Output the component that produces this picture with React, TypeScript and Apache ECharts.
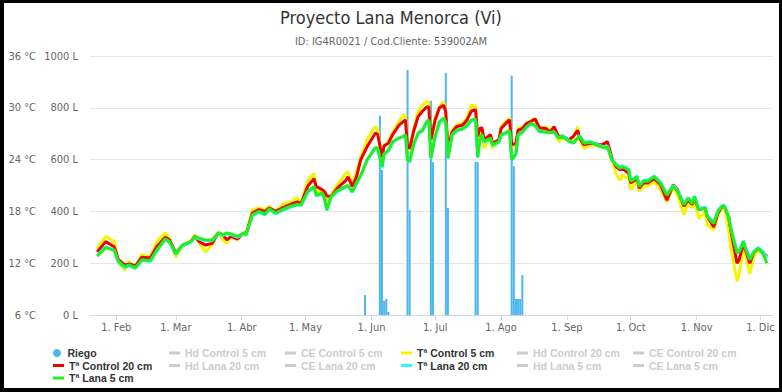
import React, { useEffect, useRef } from "react";
import * as echarts from "echarts";

const FONT = '"Liberation Sans Narrow", "DejaVu Sans Condensed", "Arial Narrow", sans-serif';
const LEGEND_FONT = '"Liberation Sans", Arial, sans-serif';

const TITLE = "Proyecto Lana Menorca (Vi)";
const SUBTITLE = "ID: IG4R0021 / Cod.Cliente: 539002AM";

const monthNames = ["Ene", "Feb", "Mar", "Abr", "May", "Jun", "Jul", "Ago", "Sep", "Oct", "Nov", "Dic"];
const monthTicks = [
  "2019-02-01", "2019-03-01", "2019-04-01", "2019-05-01", "2019-06-01", "2019-07-01",
  "2019-08-01", "2019-09-01", "2019-10-01", "2019-11-01", "2019-12-01",
];

const dates = [
  "2019-01-23", "2019-01-27", "2019-01-31", "2019-02-02", "2019-02-05", "2019-02-07", "2019-02-10", "2019-02-13",
  "2019-02-17", "2019-02-20", "2019-02-24", "2019-02-26", "2019-03-01", "2019-03-04", "2019-03-08", "2019-03-10",
  "2019-03-12", "2019-03-15", "2019-03-18", "2019-03-21", "2019-03-23", "2019-03-25", "2019-03-27", "2019-03-30",
  "2019-04-02", "2019-04-03", "2019-04-06", "2019-04-09", "2019-04-12", "2019-04-14", "2019-04-17", "2019-04-20",
  "2019-04-24", "2019-04-27", "2019-04-29", "2019-05-02", "2019-05-05", "2019-05-06", "2019-05-09", "2019-05-10",
  "2019-05-11", "2019-05-13", "2019-05-16", "2019-05-20", "2019-05-21", "2019-05-23", "2019-05-25", "2019-05-27",
  "2019-05-30", "2019-06-02", "2019-06-03", "2019-06-04", "2019-06-06", "2019-06-07", "2019-06-09", "2019-06-11",
  "2019-06-14", "2019-06-16", "2019-06-17", "2019-06-18", "2019-06-19", "2019-06-21", "2019-06-23", "2019-06-25",
  "2019-06-27", "2019-06-28", "2019-06-29", "2019-07-01", "2019-07-03", "2019-07-05", "2019-07-06", "2019-07-07",
  "2019-07-09", "2019-07-11", "2019-07-14", "2019-07-16", "2019-07-18", "2019-07-20", "2019-07-21", "2019-07-22",
  "2019-07-23", "2019-07-24", "2019-07-27", "2019-07-28", "2019-07-31", "2019-08-01", "2019-08-04", "2019-08-05",
  "2019-08-06", "2019-08-08", "2019-08-09", "2019-08-11", "2019-08-13", "2019-08-15", "2019-08-17", "2019-08-19",
  "2019-08-22", "2019-08-24", "2019-08-26", "2019-08-28", "2019-08-30", "2019-09-02", "2019-09-04", "2019-09-06",
  "2019-09-07", "2019-09-09", "2019-09-12", "2019-09-15", "2019-09-17", "2019-09-19", "2019-09-20", "2019-09-22",
  "2019-09-24", "2019-09-26", "2019-09-27", "2019-09-30", "2019-10-01", "2019-10-04", "2019-10-05", "2019-10-07",
  "2019-10-09", "2019-10-12", "2019-10-15", "2019-10-18", "2019-10-21", "2019-10-23", "2019-10-26", "2019-10-28",
  "2019-10-30", "2019-10-31", "2019-11-02", "2019-11-05", "2019-11-06", "2019-11-09", "2019-11-11", "2019-11-13",
  "2019-11-14", "2019-11-16", "2019-11-17", "2019-11-20", "2019-11-21", "2019-11-23", "2019-11-24", "2019-11-26",
  "2019-11-28", "2019-11-30", "2019-12-02", "2019-12-04",
];

// Tª Control 5 cm (yellow)
const tControl5 = [
  13.7, 15.1, 14.5, 12.1, 11.2, 12.2, 11.4, 13.0, 12.7, 14.5, 15.5, 14.9, 12.7, 14.0, 14.5, 15.3,
  14.3, 13.3, 14.1, 15.6, 14.7, 14.3, 15.2, 14.7, 15.6, 15.3, 18.2, 18.4, 18.2, 18.6, 17.9, 18.8,
  19.1, 19.6, 19.0, 21.5, 22.4, 20.3, 20.3, 20.1, 19.3, 19.9, 21.1, 22.4, 22.6, 21.1, 22.6, 24.3,
  26.3, 27.6, 27.8, 27.4, 24.2, 25.6, 26.1, 27.2, 28.4, 29.2, 29.0, 25.4, 25.1, 27.7, 29.6, 30.3,
  30.7, 30.6, 26.1, 28.8, 30.1, 30.7, 29.5, 25.1, 27.4, 28.0, 28.2, 28.9, 30.3, 30.2, 26.3, 26.9,
  27.4, 25.3, 26.7, 25.3, 26.3, 27.8, 28.6, 28.8, 25.5, 25.7, 27.7, 27.7, 28.1, 28.5, 28.8, 27.4,
  27.8, 27.4, 27.8, 26.1, 26.5, 26.2, 26.5, 27.8, 26.3, 25.3, 25.7, 25.6, 25.5, 25.6, 25.8, 24.0,
  22.4, 21.6, 22.2, 21.8, 20.5, 21.5, 20.3, 20.9, 20.9, 21.5, 20.5, 19.1, 20.8, 19.9, 17.6, 19.0,
  18.4, 19.3, 17.2, 17.9, 16.4, 15.9, 17.5, 18.5, 18.5, 15.9, 13.9, 9.9, 10.8, 13.7, 13.0, 10.8,
  12.8, 13.5, 13.3, 12.7,
];

// Tª Control 20 cm (red)
const tControl20 = [
  13.3, 14.5, 13.9, 12.4, 11.8, 11.9, 11.7, 12.7, 12.6, 13.9, 15.0, 14.7, 13.2, 14.0, 14.5, 15.1,
  14.5, 14.1, 14.3, 15.5, 15.3, 14.7, 15.1, 14.8, 15.5, 15.3, 17.8, 18.2, 18.0, 18.4, 18.0, 18.4,
  18.8, 19.1, 18.9, 20.9, 21.8, 20.9, 20.5, 20.3, 19.8, 19.7, 20.7, 21.6, 22.0, 20.9, 22.0, 24.0,
  25.5, 26.7, 27.1, 26.9, 24.3, 25.6, 25.9, 26.9, 28.0, 28.4, 28.6, 25.5, 25.3, 27.4, 29.0, 29.6,
  30.1, 30.1, 26.3, 28.6, 30.0, 30.3, 29.5, 25.3, 27.2, 27.8, 28.0, 28.6, 29.6, 29.8, 26.7, 27.6,
  27.7, 26.3, 26.9, 25.9, 26.3, 27.6, 28.4, 28.6, 25.7, 25.9, 27.4, 27.6, 28.2, 28.4, 28.7, 27.7,
  27.6, 27.2, 27.8, 26.7, 26.7, 26.3, 26.7, 27.4, 26.5, 25.7, 25.9, 25.8, 25.7, 25.9, 26.1, 24.3,
  23.2, 22.8, 23.0, 22.4, 21.3, 21.8, 20.7, 21.3, 21.3, 21.8, 21.1, 19.3, 21.1, 20.5, 18.6, 19.3,
  18.8, 19.5, 18.2, 18.4, 17.4, 16.2, 17.8, 18.6, 18.6, 17.4, 15.9, 12.0, 12.4, 14.3, 13.5, 12.0,
  13.3, 13.7, 13.3, 12.8,
];

// Tª Lana 20 cm (cyan)
const tLana20 = [
  12.9, 13.9, 13.5, 12.1, 11.5, 11.7, 11.4, 12.3, 12.2, 13.4, 14.7, 14.4, 13.0, 14.0, 14.4, 15.0,
  14.8, 14.6, 14.6, 15.4, 15.2, 15.4, 15.3, 15.0, 15.4, 15.2, 17.5, 17.9, 17.6, 18.2, 17.7, 18.1,
  18.5, 18.7, 18.7, 20.2, 20.8, 19.8, 20.0, 19.4, 18.1, 19.6, 20.3, 20.8, 20.9, 20.2, 21.2, 22.1,
  23.9, 25.0, 25.3, 25.2, 23.0, 24.6, 25.0, 26.0, 26.5, 26.7, 26.8, 23.9, 23.7, 25.8, 27.0, 27.3,
  28.3, 28.5, 24.1, 26.6, 28.3, 28.7, 28.2, 24.1, 26.8, 27.3, 27.5, 27.9, 28.5, 28.6, 24.2, 26.2,
  26.8, 26.0, 26.4, 25.6, 26.0, 26.8, 27.1, 27.3, 23.9, 24.6, 26.8, 27.1, 27.7, 28.1, 27.9, 27.2,
  27.2, 27.1, 27.2, 26.5, 26.8, 26.2, 26.0, 26.5, 26.8, 26.0, 26.1, 25.8, 25.6, 25.4, 25.6, 24.1,
  23.5, 23.1, 23.3, 22.9, 21.6, 22.1, 21.0, 21.6, 21.6, 22.1, 21.4, 20.0, 21.0, 20.4, 18.9, 19.6,
  19.0, 19.8, 18.3, 18.5, 17.5, 16.7, 18.1, 18.7, 18.7, 17.5, 16.2, 13.3, 13.4, 14.6, 13.8, 12.5,
  13.4, 13.8, 13.4, 12.6,
];

// Tª Lana 5 cm (green)
const tLana5 = [
  12.8, 13.8, 13.5, 12.2, 11.6, 11.8, 11.5, 12.4, 12.3, 13.5, 14.8, 14.5, 13.1, 14.1, 14.5, 15.1,
  14.9, 14.7, 14.7, 15.5, 15.3, 15.5, 15.4, 15.1, 15.5, 15.3, 17.6, 18.0, 17.7, 18.3, 17.8, 18.2,
  18.6, 18.8, 18.8, 20.3, 20.9, 19.9, 20.1, 19.5, 18.2, 19.7, 20.4, 20.9, 21.0, 20.3, 21.3, 22.2,
  24.0, 25.1, 25.4, 25.3, 23.2, 24.7, 25.1, 26.1, 26.5, 26.7, 26.9, 24.0, 23.8, 25.9, 27.1, 27.4,
  28.4, 28.6, 24.2, 26.7, 28.4, 28.8, 28.3, 24.2, 26.9, 27.4, 27.6, 28.0, 28.6, 28.7, 24.3, 26.3,
  26.9, 26.1, 26.5, 25.7, 26.1, 26.9, 27.2, 27.4, 24.0, 24.7, 26.9, 27.2, 27.8, 28.2, 28.0, 27.3,
  27.2, 27.1, 27.2, 26.5, 26.7, 26.1, 25.9, 26.5, 26.7, 25.9, 26.0, 25.7, 25.5, 25.3, 25.5, 24.0,
  23.4, 23.0, 23.2, 22.8, 21.5, 22.0, 20.9, 21.5, 21.5, 22.0, 21.3, 19.9, 20.9, 20.3, 18.8, 19.5,
  18.9, 19.7, 18.2, 18.4, 17.4, 16.6, 18.0, 18.6, 18.6, 17.4, 16.1, 13.2, 13.3, 14.5, 13.7, 12.4,
  13.3, 13.7, 13.2, 12.0,
];

// Riego (L)
const riegoDates = [
  "2019-05-29", "2019-06-05", "2019-06-06", "2019-06-07", "2019-06-08", "2019-06-09",
  "2019-06-18", "2019-06-19", "2019-06-29", "2019-06-30", "2019-07-06", "2019-07-07",
  "2019-07-20", "2019-07-21", "2019-08-06", "2019-08-07", "2019-08-08", "2019-08-09",
  "2019-08-10", "2019-08-11",
];
const riegoValues = [
  77, 770, 560, 55, 62, 12,
  946, 406, 827, 590, 935, 414,
  592, 590, 924, 575, 62, 62,
  62, 154,
];

const hiddenNames = [
  "Hd Control 5 cm", "CE Control 5 cm", "Hd Control 20 cm", "CE Control 20 cm",
  "Hd Lana 20 cm", "CE Lana 20 cm", "Hd Lana 5 cm", "CE Lana 5 cm",
];

const toTs = (s: string) => new Date(s + "T00:00:00").getTime();

export default function App() {
  const ref = useRef<HTMLDivElement>(null);

  useEffect(() => {
    document.body.style.margin = "0";
    if (!ref.current) return;
    const chart = echarts.init(ref.current, null, { renderer: "svg" });

    const selected: Record<string, boolean> = {};
    hiddenNames.forEach((n) => (selected[n] = false));

    const lineSeries = (name: string, values: number[], color: string) => ({
      name,
      type: "line",
      yAxisIndex: 0,
      showSymbol: false,
      symbol: "none",
      data: dates.map((d, i) => [toTs(d), values[i]]),
      lineStyle: { width: 3, color },
      itemStyle: { color },
      emphasis: { disabled: true },
    });
    const hiddenSeries = (name: string) => ({
      name,
      type: "line",
      yAxisIndex: 0,
      showSymbol: false,
      data: [] as number[][],
      itemStyle: { color: "#cccccc" },
      lineStyle: { color: "#cccccc" },
    });

    const legendBase = {
      orient: "vertical",
      itemWidth: 11,
      itemHeight: 3,
      itemGap: 0.5,
      icon: "rect",
      padding: 0,
      inactiveColor: "#cccccc",
      selected,
      textStyle: {
        fontFamily: LEGEND_FONT,
        fontSize: 10.5,
        fontWeight: "bold",
        color: "#333333",
        lineHeight: 12,
      },
    };

    const ticks = monthTicks.map(toTs);

    const option: any = {
      animation: false,
      backgroundColor: "#ffffff",
      textStyle: { fontFamily: FONT },
      title: [
        {
          text: TITLE,
          left: "center",
          top: 8,
          padding: 0,
          textStyle: { fontFamily: FONT, fontSize: 18, fontWeight: "normal", color: "#333333" },
        },
        {
          text: SUBTITLE,
          left: "center",
          top: 36,
          padding: 0,
          textStyle: { fontFamily: FONT, fontSize: 11, fontWeight: "normal", color: "#666666" },
        },
      ],
      grid: { left: 90, top: 56, width: 683, height: 259, containLabel: false },
      legend: [
        {
          ...legendBase,
          left: 53,
          top: 347,
          itemHeight: 8,
          data: [{ name: "Riego", icon: "circle" }],
        },
        { ...legendBase, left: 53, top: 359.5, data: ["Tª Control 20 cm", "Tª Lana 5 cm"] },
        { ...legendBase, left: 169, top: 347, data: ["Hd Control 5 cm", "Hd Lana 20 cm"] },
        { ...legendBase, left: 285, top: 347, data: ["CE Control 5 cm", "CE Lana 20 cm"] },
        { ...legendBase, left: 401, top: 347, data: ["Tª Control 5 cm", "Tª Lana 20 cm"] },
        { ...legendBase, left: 517, top: 347, data: ["Hd Control 20 cm", "Hd Lana 5 cm"] },
        { ...legendBase, left: 633, top: 347, data: ["CE Control 20 cm", "CE Lana 5 cm"] },
      ],
      xAxis: {
        type: "value",
        min: new Date(2019, 0, 19, 15).getTime(),
        max: new Date(2019, 11, 6, 22).getTime(),
        axisLine: { show: true, lineStyle: { color: "#ccd6eb", width: 1 } },
        axisTick: {
          show: true,
          length: 5,
          lineStyle: { color: "#ccd6eb" },
          customValues: ticks,
        },
        axisLabel: {
          customValues: ticks,
          color: "#666666",
          fontSize: 11,
          fontFamily: FONT,
          margin: 7,
          formatter: (v: number) => "1. " + monthNames[new Date(v).getMonth()],
        },
        splitLine: { show: false },
      },
      yAxis: [
        {
          type: "value",
          position: "left",
          offset: 42,
          min: 6,
          max: 36,
          interval: 6,
          axisLine: { show: false },
          axisTick: { show: false },
          axisLabel: {
            color: "#666666",
            fontSize: 11,
            fontFamily: FONT,
            margin: 12,
            formatter: (v: number) => v + " °C",
          },
          splitLine: { show: true, lineStyle: { color: "#e6e6e6", width: 1 } },
        },
        {
          type: "value",
          position: "left",
          offset: 0,
          min: 0,
          max: 1000,
          interval: 200,
          axisLine: { show: false },
          axisTick: { show: false },
          axisLabel: {
            color: "#666666",
            fontSize: 11,
            fontFamily: FONT,
            margin: 12,
            formatter: (v: number) => v + " L",
          },
          splitLine: { show: false },
        },
      ],
      series: [
        {
          name: "Riego",
          type: "bar",
          yAxisIndex: 1,
          barWidth: 2,
          data: riegoDates.map((d, i) => [toTs(d), riegoValues[i]]),
          itemStyle: { color: "#4db6ee" },
          emphasis: { disabled: true },
        },
        hiddenSeries("Hd Control 5 cm"),
        hiddenSeries("CE Control 5 cm"),
        lineSeries("Tª Control 5 cm", tControl5, "#f5f500"),
        hiddenSeries("Hd Control 20 cm"),
        hiddenSeries("CE Control 20 cm"),
        lineSeries("Tª Control 20 cm", tControl20, "#ee0000"),
        hiddenSeries("Hd Lana 20 cm"),
        hiddenSeries("CE Lana 20 cm"),
        lineSeries("Tª Lana 20 cm", tLana20, "#33f5f5"),
        hiddenSeries("Hd Lana 5 cm"),
        hiddenSeries("CE Lana 5 cm"),
        lineSeries("Tª Lana 5 cm", tLana5, "#22ee22"),
      ],
    };

    chart.setOption(option);
    return () => chart.dispose();
  }, []);

  return (
    <div style={{ position: "absolute", left: 0, top: 0, width: 782, height: 392, background: "#fff" }}>
      <div ref={ref} style={{ position: "absolute", left: 0, top: 0, width: 782, height: 392 }} />
      <div
        style={{
          position: "absolute",
          left: 0,
          top: 0,
          width: 782,
          height: 392,
          boxSizing: "border-box",
          borderStyle: "solid",
          borderColor: "#000",
          borderWidth: "3px 3px 4px 4px",
          pointerEvents: "none",
        }}
      />
    </div>
  );
}
